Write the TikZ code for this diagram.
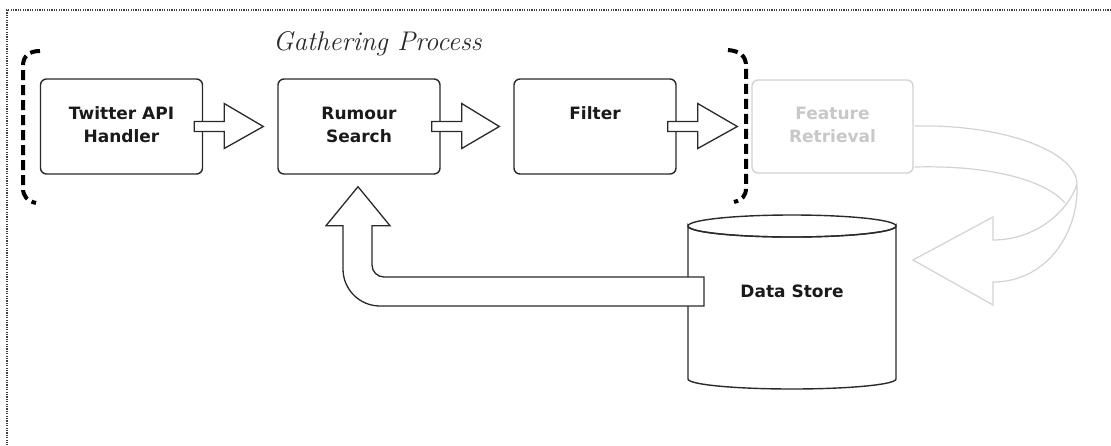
\documentclass[tikz,border=0pt]{standalone}
\usepackage{fontspec}
\newfontfamily\boxfont{DejaVu Sans}
\usetikzlibrary{calc}
\definecolor{ink}{HTML}{2A2A2A}
\definecolor{txt}{HTML}{1A1A1A}
\definecolor{faint}{HTML}{D2D2D2}
\definecolor{fainttext}{HTML}{C8C8C8}
\tikzset{
  box/.style={draw=ink, line width=1.4pt, rounded corners=6pt, fill=white, minimum width=162pt, minimum height=95pt, inner sep=0pt},
  fbox/.style={box, draw=faint},
  lbl/.style={font=\boxfont\bfseries\fontsize{17}{23}\selectfont, align=center, inner sep=0pt, text=txt, anchor=base},
  barrow/.style={draw=ink, line width=1.3pt, fill=white, line join=miter},
  garrow/.style={draw=faint, line width=1.2pt},
  bracket/.style={line width=4pt, dash pattern=on 10pt off 5pt, draw=black},
  frameline/.style={draw=black!75, line width=1.2pt, dash pattern=on 1.2pt off 1.2pt}
}
\newcommand\blockarr[2]{%
  \draw[barrow] ($(#1.east)+(-9,-5)$) -- ($(#1.east)+(21,-5)$) -- ($(#1.east)+(21,-23)$)
    -- ($(#2.west)+(-14,0)$) -- ($(#1.east)+(21,22)$) -- ($(#1.east)+(21,5)$)
    -- ($(#1.east)+(-9,5)$) -- cycle;}
\begin{document}
\begin{tikzpicture}[x=1pt, y=-1pt]
\useasboundingbox (0,0) rectangle (1111,445);
% frame
\coordinate (fTL) at (7,10);
\coordinate (fTR) at (1111,10);
\coordinate (fBL) at (7,445);
\draw[frameline] (fTR) -- (fTL) -- (fBL);
% title
\node[anchor=base west, inner sep=0pt, font=\itshape\fontsize{27}{30}\selectfont, text=ink] (gp) at (273,50) {Gathering Process};
% boxes
\node[box] (tw) at (121.5,126.5) {};
\node[lbl] (twl) at ($(tw.north)+(0,64)$) {Twitter API\\Handler};
\node[box] (rs) at (359,126.5) {};
\node[lbl] (rsl) at ($(rs.north)+(0,64)$) {Rumour\\Search};
\node[box] (fi) at (595,126.5) {};
\node[lbl] (fil) at ($(fi.north)+(0,41)$) {Filter};
\node[fbox, minimum width=161pt, minimum height=93pt] (fr) at (832.5,126.5) {};
\node[lbl, text=fainttext] (frl) at ($(fr.north)+(0,63)$) {Feature\\Retrieval};
% block arrows
\blockarr{tw}{rs}
\blockarr{rs}{fi}
\blockarr{fi}{fr}
% brackets
\draw[bracket] (40,51) .. controls (29,51) and (23,56) .. (23,66) -- (23,188) .. controls (23,196) and (27,201) .. (36,203);
\draw[bracket] (728,50) .. controls (740,51) and (746,56) .. (746,66) -- (746,188) .. controls (746,196) and (742,200) .. (734,202);
% data store cylinder
\draw[draw=ink, line width=1.4pt, fill=white] (688,226) -- (688,379) arc[start angle=180, end angle=0, x radius=104, y radius=10] -- (896,226) arc[start angle=0, end angle=180, x radius=104, y radius=11] -- cycle;
\draw[draw=ink, line width=1.4pt] (792,226) ellipse[x radius=104, y radius=11];
\node[lbl, anchor=center] (ds) at (792,291) {Data Store};
% bent arrow from data store up to rumour search
\coordinate (dsin) at (704,291.5);
\draw[barrow] ($(dsin)+(0,-14.5)$) -- (384,277) arc[start angle=90, end angle=180, radius=12] -- ($(rs.south)+(13,51)$) -- ($(rs.south)+(31,51)$) -- ($(rs.south)+(-1,12)$) -- ($(rs.south)+(-33,51)$) -- ($(rs.south)+(-16,51)$) -- (343,269) arc[start angle=180, end angle=90, radius=37] -- ($(dsin)+(0,14.5)$) -- cycle;
% faint curved arrow from feature retrieval to data store
\draw[garrow] ($(fr.east)+(1,-0.5)$) .. controls (1000,124) and (1076,150) .. (1077,184) .. controls (1079,235) and (1045,282) .. (993,282) -- (993,305) -- (913,260) -- (993,217) -- (993,240) .. controls (1035,240) and (1068,212) .. (1077,184);
\draw[garrow] ($(fr.east)+(1,40.5)$) .. controls (990,165) and (1045,180) .. (1065,203);
\end{tikzpicture}
\end{document}
